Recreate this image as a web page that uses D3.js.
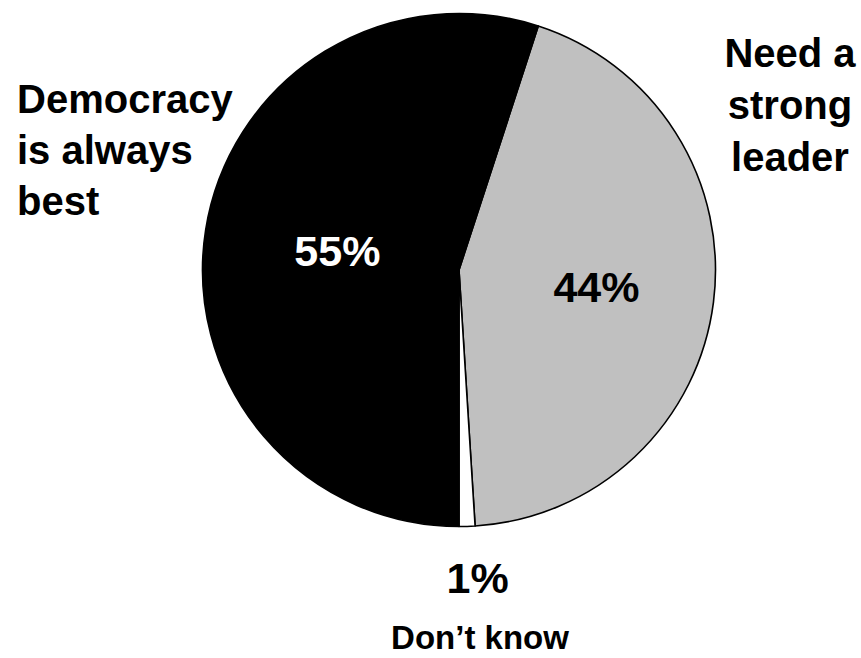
<!DOCTYPE html>
<html>
<head>
<meta charset="utf-8">
<script src="https://cdn.jsdelivr.net/npm/d3@7"></script>
<style>
  html, body { margin: 0; padding: 0; background: #ffffff; }
  svg { display: block; }
  text { font-family: Arial, "Liberation Sans", Helvetica, sans-serif; font-weight: bold; }
</style>
</head>
<body>
<svg id="chart" width="861" height="658"></svg>
<script>
// Survey shares, clockwise from the top-right wedge
const categories = ["Need a strong leader", "Don\u2019t know", "Democracy is always best"];
const values = [44, 1, 55];
const valueLabels = ["44%", "1%", "55%"];
const sliceColors = ["#c0c0c0", "#ffffff", "#000000"];
const percentColors = ["#000000", "#000000", "#ffffff"];

// Category captions, one line per entry
const captionLines = [
  ["Need a", "strong", "leader"],
  ["Don\u2019t know"],
  ["Democracy", "is always", "best"]
];

const width = 861, height = 658;
const cx = 459, cy = 270, radius = 256.5;
const startDeg = 18;

const svg = d3.select("#chart");
const g = svg.append("g").attr("transform", `translate(${cx},${cy})`);

const pie = d3.pie()
  .sort(null)
  .value(d => d)
  .startAngle(startDeg * Math.PI / 180)
  .endAngle(startDeg * Math.PI / 180 + 2 * Math.PI);

const arcs = pie(values);
const arc = d3.arc().innerRadius(0).outerRadius(radius);

g.selectAll("path.slice")
  .data(arcs)
  .join("path")
  .attr("class", "slice")
  .attr("d", arc)
  .attr("fill", (d, i) => sliceColors[i])
  .attr("stroke", "#000")
  .attr("stroke-width", 1.6)
  .attr("stroke-linejoin", "round");

// Percentage labels: inside the two large wedges, below the pie for the small one
const labelRadius = [radius * 0.54, radius * 1.2, radius * 0.48];
g.selectAll("text.pct")
  .data(arcs)
  .join("text")
  .attr("class", "pct")
  .attr("transform", (d, i) => {
    const r = labelRadius[i];
    const c = d3.arc().innerRadius(r).outerRadius(r).centroid(d);
    if (i === 1) return `translate(${c[0] + 9},${c[1]})`;
    return `translate(${c[0]},${c[1]})`;
  })
  .attr("text-anchor", "middle")
  .attr("dominant-baseline", "central")
  .attr("font-size", 43)
  .attr("fill", (d, i) => percentColors[i])
  .text((d, i) => valueLabels[i]);

// Category captions around the pie
const captionLayout = [
  { x: 790, y: 67, anchor: "middle", size: 40, step: 52 },
  { x: 480, y: 649, anchor: "middle", size: 33, step: 0 },
  { x: 17, y: 113, anchor: "start", size: 40, step: 51 }
];

captionLines.forEach((lines, i) => {
  const L = captionLayout[i];
  const t = svg.append("text")
    .attr("class", "caption")
    .attr("x", L.x)
    .attr("y", L.y)
    .attr("text-anchor", L.anchor)
    .attr("font-size", L.size)
    .attr("fill", "#000");
  lines.forEach((line, j) => {
    t.append("tspan")
      .attr("x", L.x)
      .attr("y", L.y + j * L.step)
      .text(line);
  });
});
</script>
</body>
</html>
